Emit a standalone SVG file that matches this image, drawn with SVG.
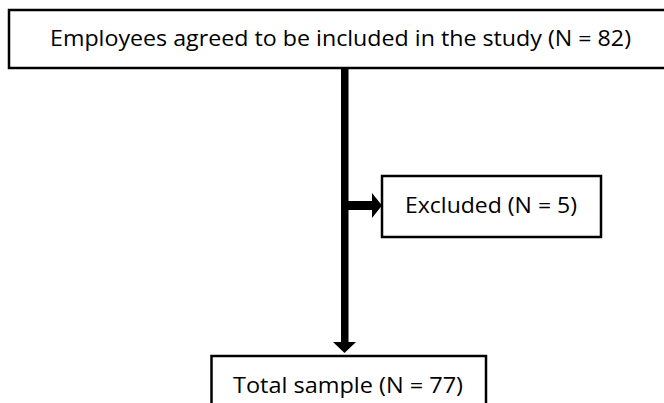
<svg xmlns="http://www.w3.org/2000/svg" width="664" height="403" viewBox="0 0 664 403">
<style>
.box{fill:#fff;stroke:#000;stroke-width:2.5}
.lbl{font-family:"Open Sans","Liberation Sans",Arial,sans-serif;font-size:22px;fill:#000;text-anchor:middle}
.ar{fill:#000}
</style>
<rect width="664" height="403" fill="#fff"/>
<g id="connectors">
<rect class="ar" x="341" y="68" width="7.5" height="275"/>
<polygon class="ar" points="333,342 356,342 344.5,353"/>
<rect class="ar" x="344" y="201" width="29" height="9"/>
<polygon class="ar" points="372,193 382,205.5 372,218"/>
</g>
<g id="n1">
<rect class="box" x="9" y="10" width="664" height="58"/>
<text class="lbl" x="340.5" y="46" textLength="581" lengthAdjust="spacingAndGlyphs">Employees agreed to be included in the study (N = 82)</text>
</g>
<g id="n2">
<rect class="box" x="382" y="176" width="219" height="61"/>
<text class="lbl" x="491" y="213" textLength="172" lengthAdjust="spacingAndGlyphs">Excluded (N = 5)</text>
</g>
<g id="n3">
<rect class="box" x="211.5" y="356" width="274.5" height="60"/>
<text class="lbl" x="348" y="393" textLength="230" lengthAdjust="spacingAndGlyphs">Total sample (N = 77)</text>
</g>
</svg>
